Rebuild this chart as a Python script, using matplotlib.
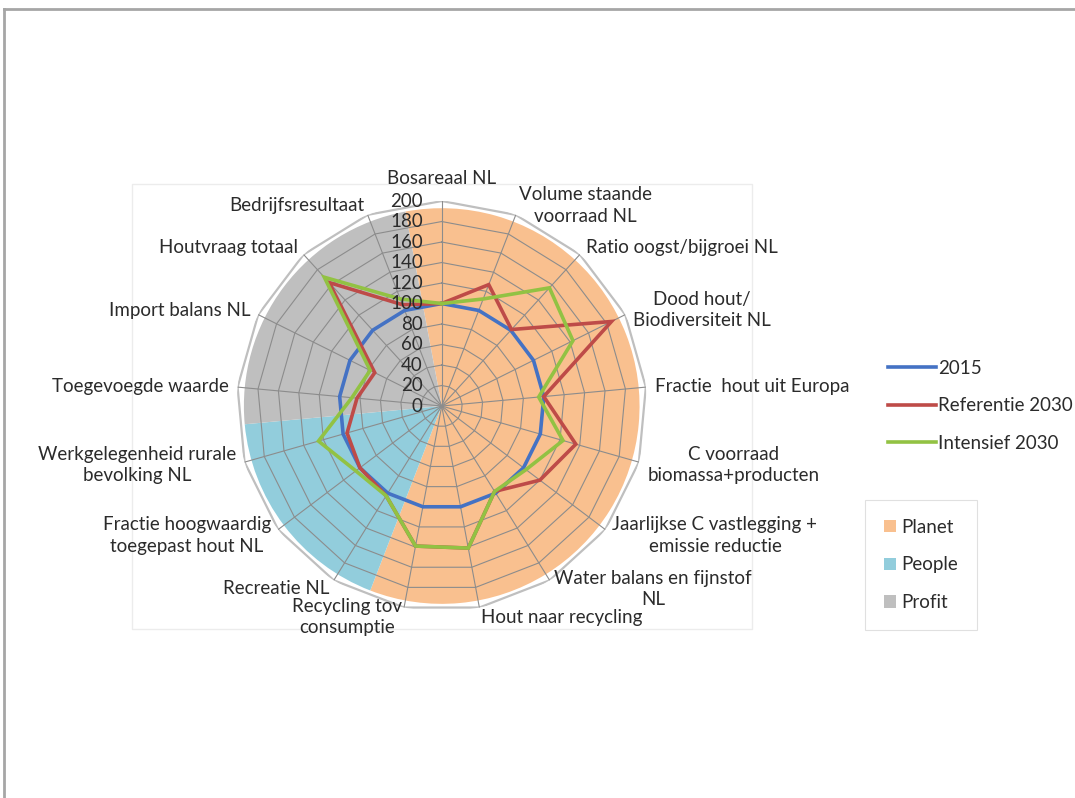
import numpy as np
import matplotlib.pyplot as plt
from matplotlib.patches import Patch
from matplotlib.lines import Line2D

plt.rcParams['font.family'] = ['Lato', 'DejaVu Sans']

# categories, clockwise from the top
categories = [
    'Bosareaal NL',
    'Volume staande\nvoorraad NL',
    'Ratio oogst/bijgroei NL',
    'Dood hout/\nBiodiversiteit NL',
    'Fractie  hout uit Europa',
    'C voorraad\nbiomassa+producten',
    'Jaarlijkse C vastlegging +\nemissie reductie',
    'Water balans en fijnstof\nNL',
    'Hout naar recycling',
    'Recycling tov\nconsumptie',
    'Recreatie NL',
    'Fractie hoogwaardig\ntoegepast hout NL',
    'Werkgelegenheid rurale\nbevolking NL',
    'Toegevoegde waarde',
    'Import balans NL',
    'Houtvraag totaal',
    'Bedrijfsresultaat',
]

series_names = ['2015', 'Referentie 2030', 'Intensief 2030']
v2015 = [100, 100, 100, 100, 100, 100, 100, 100, 100, 100, 100, 100, 100, 100, 100, 100, 100]
ref2030 = [100, 127, 101, 185, 100, 136, 120, 98, 141, 139, 103, 100, 96, 83, 73, 163, 106]
int2030 = [100, 112, 156, 143, 95, 123, 103, 98, 141, 139, 103, 105, 125, 88, 78, 170, 112]

# background pie: number of categories per group
groups = ['Planet', 'People', 'Profit']
group_sizes = [10, 3, 4]

r_ticks = [0, 20, 40, 60, 80, 100, 120, 140, 160, 180, 200]

line_colors = ['#4472C4', '#BE4B48', '#92C243']
group_colors = ['#F9C08F', '#92CDDC', '#BFBFBF']
text_color = '#2b2b2b'
fs = 13.5

n = len(categories)
step = 2 * np.pi / n
theta = np.arange(n) * step

fig = plt.figure(figsize=(10.75, 7.98), dpi=100)
fig.patch.set_facecolor('white')

# slide frame and faint chart area box (behind the chart)
fig.add_artist(Line2D([4 / 1075, 1], [1 - 9 / 798, 1 - 9 / 798], color='#a6a6a6', lw=2, zorder=-1))
fig.add_artist(Line2D([4 / 1075, 4 / 1075], [0, 1 - 9 / 798], color='#a6a6a6', lw=2, zorder=-1))
fig.add_artist(plt.Rectangle((132 / 1075, 1 - 629 / 798), 620 / 1075, 445 / 798,
                             fill=False, ec='#ececec', lw=1, zorder=-1))

ax = fig.add_axes([0.2202, 0.2343, 0.3814, 0.5138], projection='polar')
ax.set_theta_zero_location('N')
ax.set_theta_direction(-1)
ax.set_ylim(0, 200)
ax.set_xticks([])
ax.set_yticks([])
ax.grid(False)
ax.spines['polar'].set_visible(False)
ax.set_facecolor('none')

# pie behind the radar
start = -step / 2
for g, size, col in zip(groups, group_sizes, group_colors):
    ax.bar(start, 193, width=size * step, bottom=0, align='edge',
           color=col, edgecolor='none', zorder=1)
    start += size * step

# polygon grid
th_closed = np.append(theta, theta[0])
for r in r_ticks[1:-1]:
    ax.plot(th_closed, np.full(n + 1, r), color='#8c8c8c', lw=0.8, zorder=2)
ax.plot(th_closed, np.full(n + 1, r_ticks[-1]), color='#bfbfbf', lw=1.6, zorder=2)
for th in theta:
    ax.plot([th, th], [0, r_ticks[-1]], color='#8c8c8c', lw=0.8, zorder=2)

# data series
for name, vals, col in zip(series_names, [v2015, ref2030, int2030], line_colors):
    vv = np.append(vals, vals[0])
    ax.plot(th_closed, vv, color=col, lw=2.6, label=name, zorder=3, solid_joinstyle='miter')

# radial tick labels
for r in r_ticks:
    ax.annotate(str(r), xy=(0, r), xytext=(-19, 0), textcoords='offset pixels',
                ha='right', va='center', fontsize=fs, color=text_color, zorder=4)

# category labels
for k, lab in enumerate(categories):
    s, c = np.sin(theta[k]), np.cos(theta[k])
    if s > 0.1:
        ha = 'left'
    elif s < -0.1:
        ha = 'right'
    else:
        ha = 'center'
    dx = 9 * s
    dy = 10 * c
    if c > 0.99:
        dy = 23
    ax.annotate(lab, xy=(theta[k], 200), xytext=(dx, dy), textcoords='offset pixels',
                ha=ha, va='center', multialignment='center', fontsize=fs,
                linespacing=1.3, color=text_color, annotation_clip=False)

# legends
h1 = [Line2D([], [], color=c, lw=2.6) for c in line_colors]
leg1 = fig.legend(h1, series_names, loc='upper left', bbox_to_anchor=(880 / 1075, 1 - 352 / 798),
                  frameon=False, fontsize=fs, handlelength=2.6, handletextpad=0.1,
                  labelspacing=1.1, borderaxespad=0, labelcolor=text_color)
h2 = [Patch(facecolor=c, edgecolor='none') for c in group_colors]
leg2 = fig.legend(h2, groups, loc='upper left', bbox_to_anchor=(865 / 1075, 1 - 500 / 798),
                  frameon=True, fancybox=False, fontsize=fs, handlelength=0.65,
                  handleheight=0.65, handletextpad=0.3, labelspacing=1.1,
                  borderaxespad=0, borderpad=1.0, labelcolor=text_color)
leg2.get_frame().set_edgecolor('#d9d9d9')
leg2.get_frame().set_linewidth(0.8)

fig.savefig('out.png', dpi=100)
